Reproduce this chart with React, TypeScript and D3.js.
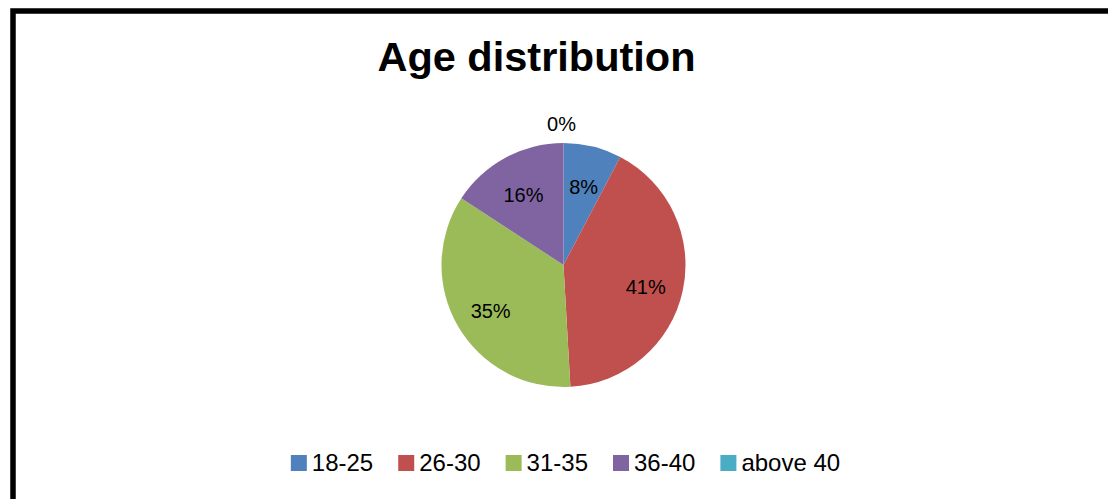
import React, { useEffect, useRef } from "react";
import * as d3 from "d3";

const categories = ["18-25", "26-30", "31-35", "36-40", "above 40"];
const values = [7.7, 41.4, 35.1, 15.8, 0];
const colors = ["#4F81BD", "#C0504D", "#9BBB59", "#8064A2", "#4BACC6"];
const title = "Age distribution";

const W = 1108;
const H = 499;

export default function App() {
  const ref = useRef<SVGSVGElement | null>(null);

  useEffect(() => {
    const svg = d3.select(ref.current);
    svg.selectAll("*").remove();

    svg.append("rect").attr("x", 0).attr("y", 0).attr("width", W).attr("height", H).attr("fill", "#fff");

    // chart border (extends beyond the visible area at right and bottom)
    svg
      .append("rect")
      .attr("x", 13)
      .attr("y", 11)
      .attr("width", W + 40)
      .attr("height", H + 40)
      .attr("fill", "none")
      .attr("stroke", "#000")
      .attr("stroke-width", 5.5);

    svg
      .append("text")
      .attr("x", 536.5)
      .attr("y", 71)
      .attr("text-anchor", "middle")
      .attr("font-family", "'Liberation Sans', Arial, sans-serif")
      .attr("font-weight", "bold")
      .attr("font-size", 41.5)
      .attr("fill", "#000")
      .text(title);

    const cx = 563.5;
    const cy = 265;
    const R = 122;
    const total = d3.sum(values);
    const pct = d3.format(".0%");

    const pie = d3
      .pie<number>()
      .sort(null)
      .value((d) => d)
      .startAngle(0)
      .endAngle(2 * Math.PI);
    const arcs = pie(values);
    const arc = d3.arc<d3.PieArcDatum<number>>().innerRadius(0).outerRadius(R);
    const labelArc = d3.arc<d3.PieArcDatum<number>>().innerRadius(R * 0.69).outerRadius(R * 0.69);

    const g = svg.append("g").attr("transform", `translate(${cx},${cy})`);
    g.selectAll("path.slice")
      .data(arcs)
      .join("path")
      .attr("class", "slice")
      .attr("d", arc as any)
      .attr("fill", (_d, i) => colors[i]);

    g.selectAll("text.lbl")
      .data(arcs)
      .join("text")
      .attr("class", "lbl")
      .attr("transform", (d) => {
        if (d.value === 0) {
          const a = d.startAngle;
          const r = R + 19;
          return `translate(${Math.sin(a) * r - 2},${-Math.cos(a) * r})`;
        }
        const [x, y] = labelArc.centroid(d);
        return `translate(${x},${y + 4})`;
      })
      .attr("text-anchor", "middle")
      .attr("dy", "0.35em")
      .attr("font-family", "'Liberation Sans', Arial, sans-serif")
      .attr("font-size", 20)
      .attr("fill", "#000")
      .text((d) => pct(d.value / total));

    // legend
    const legend = svg.append("g");
    const sq = 16;
    const gapSqText = 5;
    const gapItem = 25;
    let x = 0;
    categories.forEach((c, i) => {
      const item = legend.append("g").attr("transform", `translate(${x},0)`);
      item.append("rect").attr("x", 0).attr("y", -16).attr("width", sq).attr("height", sq).attr("fill", colors[i]);
      const t = item
        .append("text")
        .attr("x", sq + gapSqText)
        .attr("y", 0)
        .attr("font-family", "'Liberation Sans', Arial, sans-serif")
        .attr("font-size", 24)
        .attr("fill", "#000")
        .text(c);
      const w = (t.node() as SVGTextElement).getComputedTextLength();
      x += sq + gapSqText + w + gapItem;
    });
    const totalW = x - gapItem;
    legend.attr("transform", `translate(${565.5 - totalW / 2},471)`);
  }, []);

  return (
    <svg
      ref={ref}
      width={W}
      height={H}
      style={{ position: "absolute", left: 0, top: 0, display: "block" }}
    />
  );
}
